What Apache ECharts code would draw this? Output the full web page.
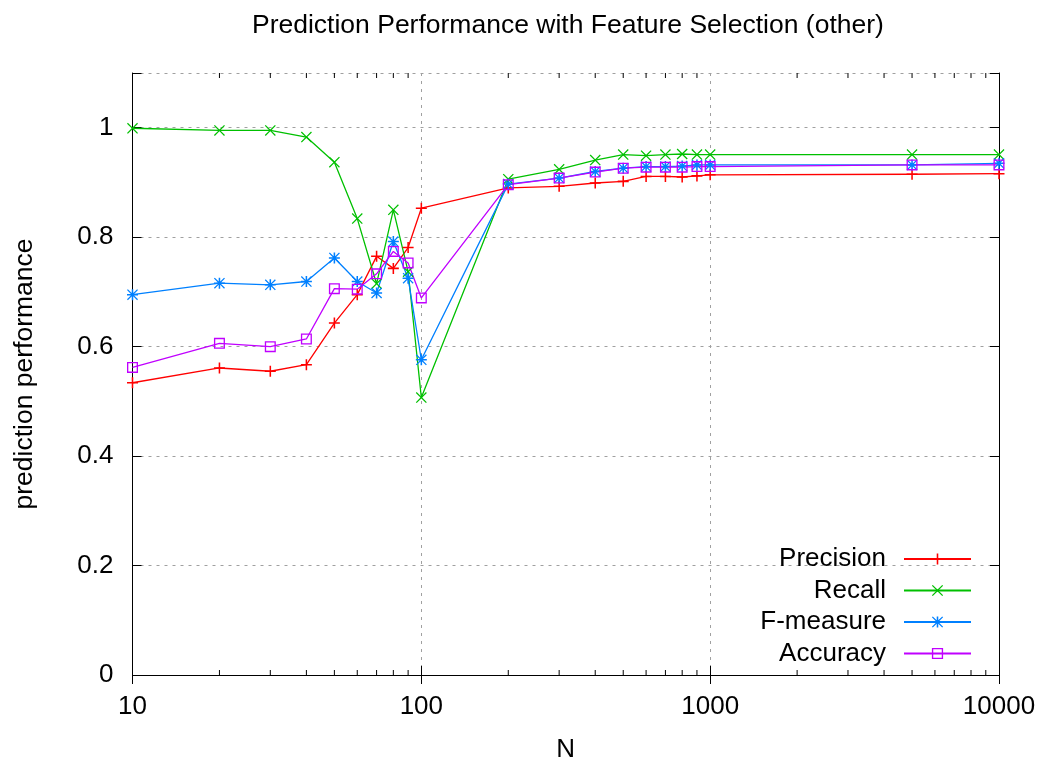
<!DOCTYPE html>
<html>
<head>
<meta charset="utf-8">
<script src="https://cdn.jsdelivr.net/npm/echarts@6/dist/echarts.min.js"></script>
<style>
  html, body { margin: 0; padding: 0; background: #fff; }
  #chart { width: 1042px; height: 764px; }
</style>
</head>
<body>
<div id="chart"></div>
<script>
// data
var N = [10, 20, 30, 40, 50, 60, 70, 80, 90, 100, 200, 300, 400, 500, 600, 700, 800, 900, 1000, 5000, 10000]
var precision = [0.534, 0.561, 0.555, 0.567, 0.643, 0.695, 0.765, 0.743, 0.781, 0.853, 0.890, 0.893, 0.899, 0.902, 0.911, 0.911, 0.910, 0.912, 0.914, 0.915, 0.916]
var recall = [0.999, 0.995, 0.995, 0.983, 0.937, 0.834, 0.715, 0.850, 0.737, 0.507, 0.906, 0.924, 0.941, 0.951, 0.949, 0.951, 0.952, 0.951, 0.951, 0.951, 0.951]
var fmeasure = [0.695, 0.716, 0.713, 0.719, 0.762, 0.719, 0.698, 0.792, 0.725, 0.576, 0.897, 0.908, 0.920, 0.926, 0.929, 0.929, 0.930, 0.932, 0.932, 0.932, 0.935]
var accuracy = [0.562, 0.606, 0.600, 0.614, 0.706, 0.705, 0.733, 0.774, 0.753, 0.689, 0.896, 0.908, 0.919, 0.926, 0.928, 0.928, 0.928, 0.929, 0.929, 0.932, 0.932]
var seriesNames = ['Precision', 'Recall', 'F-measure', 'Accuracy']
var minorTicks = [20, 30, 40, 50, 60, 70, 80, 90, 200, 300, 400, 500, 600, 700, 800, 900, 2000, 3000, 4000, 5000, 6000, 7000, 8000, 9000]

var font = 'Liberation Sans, Arial, sans-serif'

// gnuplot style point types
var plusPath = 'path://M4.3,0H5.7V4.3H10V5.7H5.7V10H4.3V5.7H0V4.3H4.3Z'
var crossPath = 'path://M0,0.8L0.8,0L5,4.2L9.2,0L10,0.8L5.8,5L10,9.2L9.2,10L5,5.8L0.8,10L0,9.2L4.2,5Z'
var starPath = 'path://M4.3,0H5.7V4.3H10V5.7H5.7V10H4.3V5.7H0V4.3H4.3Z' +
  'M0,0.8L0.8,0L5,4.2L9.2,0L10,0.8L5.8,5L10,9.2L9.2,10L5,5.8L0.8,10L0,9.2L4.2,5Z'
var squarePath = 'path://M0,0H10V10H0ZM1.2,1.2V8.8H8.8V1.2Z'

function pairs(ys) {
  return N.map(function (x, i) { return [x, ys[i]] })
}

function lineSeries(name, ys, color, symbol) {
  return {
    name: name,
    type: 'line',
    xAxisIndex: 0,
    yAxisIndex: 0,
    data: pairs(ys),
    symbol: symbol,
    symbolSize: 11,
    showAllSymbol: true,
    lineStyle: { color: color, width: 1.3 },
    itemStyle: { color: color, borderWidth: 0 },
    emphasis: { disabled: true }
  }
}

var myChart = echarts.init(document.getElementById('chart'))

var xBase = {
  type: 'log',
  logBase: 10,
  min: 10,
  max: 10000,
  axisLine: { lineStyle: { color: '#000', width: 1 } },
  axisTick: { inside: true, length: 9, lineStyle: { color: '#000' } },
  minorTick: { show: false }
}
var yBase = {
  type: 'value',
  min: 0,
  max: 1.1,
  interval: 0.2,
  axisLine: { show: true, lineStyle: { color: '#000', width: 1 } },
  axisTick: { show: true, inside: true, length: 9, lineStyle: { color: '#000' } }
}

myChart.setOption({
  animation: false,
  title: {
    text: 'Prediction Performance with Feature Selection (other)',
    left: 247,
    top: 7,
    textStyle: { fontFamily: font, fontSize: 26.5, fontWeight: 'normal', color: '#000' }
  },
  grid: { left: 132.5, right: 43, top: 73, bottom: 89, outerBoundsMode: 'none' },
  legend: {
    data: seriesNames,
    orient: 'vertical',
    right: 65,
    top: 541,
    align: 'right',
    itemWidth: 67,
    itemHeight: 14,
    itemGap: 5.5,
    textStyle: { fontFamily: font, fontSize: 26, color: '#000', padding: [0, 13, 0, 0] }
  },
  xAxis: [
    Object.assign({}, xBase, {
      position: 'bottom',
      name: 'N',
      nameLocation: 'middle',
      nameGap: 62,
      nameTextStyle: { fontFamily: font, fontSize: 26, color: '#000' },
      axisLabel: {
        fontFamily: font, fontSize: 26, color: '#000', margin: 19,
        formatter: function (v) { return String(Math.round(v)) }
      },
      splitLine: { show: true, lineStyle: { color: '#a0a0a0', type: [3, 5], width: 1 } }
    }),
    Object.assign({}, xBase, {
      position: 'top',
      axisLabel: { show: false },
      splitLine: { show: false }
    })
  ],
  yAxis: [
    Object.assign({}, yBase, {
      position: 'left',
      name: 'prediction performance',
      nameLocation: 'middle',
      nameGap: 94,
      nameTextStyle: { fontFamily: font, fontSize: 26.5, color: '#000' },
      axisLabel: {
        fontFamily: font, fontSize: 26, color: '#000', margin: 19,
        formatter: function (v) { return v > 1.05 ? '' : String(+v.toFixed(1)) }
      },
      splitLine: { show: true, lineStyle: { color: '#a0a0a0', type: [3, 5], width: 1 } }
    }),
    Object.assign({}, yBase, {
      position: 'right',
      axisLabel: { show: false },
      splitLine: { show: false }
    })
  ],
  series: [
    lineSeries('Precision', precision, '#ff0000', plusPath),
    lineSeries('Recall', recall, '#00c000', crossPath),
    lineSeries('F-measure', fmeasure, '#0080ff', starPath),
    lineSeries('Accuracy', accuracy, '#c000ff', squarePath),
    {
      // minor ticks of the log axis on bottom and top borders
      type: 'custom',
      silent: true,
      xAxisIndex: 0,
      yAxisIndex: 0,
      clip: false,
      data: minorTicks.map(function (v) { return [v, 0] }),
      renderItem: function (params, api) {
        var b = api.coord([api.value(0), 0])
        var t = api.coord([api.value(0), 1.1])
        var st = { stroke: '#000', lineWidth: 1 }
        return {
          type: 'group',
          children: [
            { type: 'line', shape: { x1: b[0], y1: b[1], x2: b[0], y2: b[1] - 5 }, style: st },
            { type: 'line', shape: { x1: t[0], y1: t[1], x2: t[0], y2: t[1] + 5 }, style: st }
          ]
        }
      }
    }
  ]
})
</script>
</body>
</html>
